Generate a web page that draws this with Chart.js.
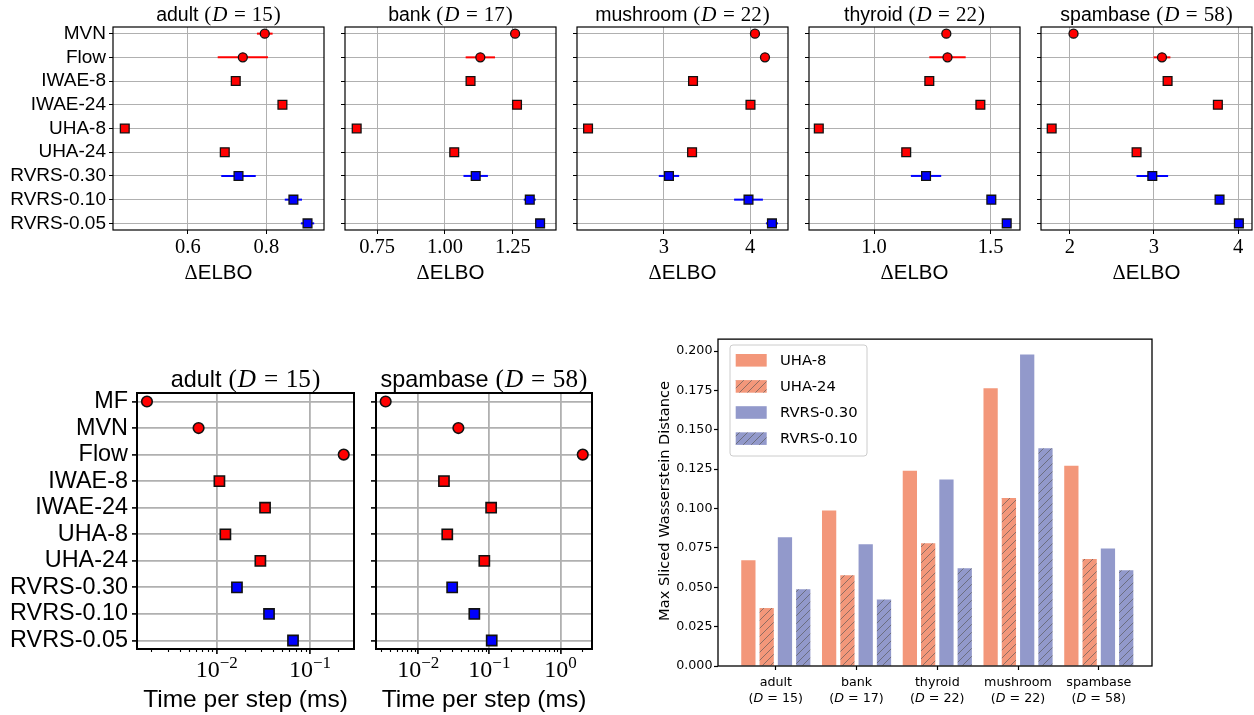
<!DOCTYPE html>
<html><head><meta charset="utf-8">
<script src="https://cdn.jsdelivr.net/npm/chart.js@4.4.1/dist/chart.umd.min.js"></script>
<style>
html,body{margin:0;padding:0;background:#fff}
#wrap{position:relative;width:1254px;height:715px;overflow:hidden;background:#fff}
#wrap canvas{position:absolute}
</style></head><body><div id="wrap"></div>
<script>
// ---------------- data ----------------
const topMethods = ['MVN','Flow','IWAE-8','IWAE-24','UHA-8','UHA-24','RVRS-0.30','RVRS-0.10','RVRS-0.05'];
const topNames = ['adult','bank','mushroom','thyroid','spambase'];
const topDims = [15,17,22,22,58];
const elboAdult    = [0.796,0.740,0.722,0.841,0.439,0.694,0.729,0.869,0.905];
const errAdult     = [0.020,0.064,0,0,0,0,0.044,0.022,0.017];
const elboBank     = [1.258,1.130,1.094,1.265,0.675,1.034,1.113,1.312,1.350];
const errBank      = [0,0.054,0,0,0,0,0.045,0.022,0];
const elboMushroom = [4.055,4.171,3.337,4.003,2.120,3.326,3.058,3.980,4.252];
const errMushroom  = [0,0,0,0,0,0,0.118,0.167,0.070];
const elboThyroid  = [1.310,1.315,1.237,1.456,0.763,1.138,1.223,1.503,1.569];
const errThyroid   = [0,0.078,0,0,0,0,0.065,0,0];
const elboSpambase = [2.043,3.095,3.162,3.760,1.783,2.793,2.980,3.780,4.010];
const errSpambase  = [0,0.100,0,0,0,0,0.188,0,0];
const ticksAdult = [0.6,0.8],        tickLabelsAdult = ['0.6','0.8'];
const ticksBank = [0.75,1.0,1.25],   tickLabelsBank = ['0.75','1.00','1.25'];
const ticksMushroom = [3,4],         tickLabelsMushroom = ['3','4'];
const ticksThyroid = [1.0,1.5],      tickLabelsThyroid = ['1.0','1.5'];
const ticksSpambase = [2,3,4],       tickLabelsSpambase = ['2','3','4'];

const timeMethods = ['MF','MVN','Flow','IWAE-8','IWAE-24','UHA-8','UHA-24','RVRS-0.30','RVRS-0.10','RVRS-0.05'];
const timeNames = ['adult','spambase'];
const timeDims = [15,58];
const timeAdult    = [0.00179,0.0064,0.23,0.0107,0.033,0.0124,0.0294,0.0165,0.0364,0.0658];
const timeSpambase = [0.00348,0.0367,2.06,0.023,0.106,0.0256,0.085,0.030,0.0615,0.108];
const logTicksAdult = [0.01,0.1],       logExpAdult = ['−2','−1'];
const logTicksSpambase = [0.01,0.1,1],  logExpSpambase = ['−2','−1','0'];

const barCategories = ['adult','bank','thyroid','mushroom','spambase'];
const barDims = [15,17,22,22,58];
const barSeriesNames = ['UHA-8','UHA-24','RVRS-0.30','RVRS-0.10'];
const mswUHA8    = [0.0672,0.0987,0.1240,0.1764,0.1272];
const mswUHA24   = [0.0368,0.0577,0.0779,0.1067,0.0680];
const mswRVRS030 = [0.0817,0.0773,0.1185,0.1979,0.0747];
const mswRVRS010 = [0.0488,0.0423,0.0621,0.1383,0.0608];
const barYTicks = [0,0.025,0.05,0.075,0.1,0.125,0.15,0.175,0.2];

// ---------------- helpers ----------------
const wrap = document.getElementById('wrap');
function addCanvas(x,y,w,h){
  const c=document.createElement('canvas');
  c.width=w;c.height=h;c.style.left=x+'px';c.style.top=y+'px';
  c.style.width=w+'px';c.style.height=h+'px';
  wrap.appendChild(c);return c;
}
function drawSegs(ctx, segs, cx, y){
  let total=0;
  segs.forEach(s=>{ctx.font=s.f;s.w=(s.l||0)+ctx.measureText(s.t).width+(s.r||0);total+=s.w;});
  let x=cx-total/2;
  ctx.textAlign='left';ctx.textBaseline='alphabetic';ctx.fillStyle='#000';
  segs.forEach(s=>{ctx.font=s.f;ctx.fillText(s.t,x+(s.l||0),y+(s.dy||0));x+=s.w;});
}
function titleSegs(name,D,sans,serif,gap){
  const sf=serif+'px "Liberation Serif"', it='italic '+serif+'px "Liberation Serif"';
  return [{t:name,f:sans+'px "Liberation Sans"',r:sans*0.3},{t:'(',f:sf,r:1},{t:'D',f:it,r:0.5},
          {t:'=',f:sf,l:gap,r:gap},{t:String(D),f:sf},{t:')',f:sf,l:1}];
}
const kindOf = m => (m==='MF'||m==='MVN'||m==='Flow') ? 'c' : (m.indexOf('RVRS')===0 ? 'bs' : 'rs');
function markerDatasets(methods, values, errs, s){
  const groups=[{key:'c',style:'circle',color:'#ff0000',r:s.cr},
                {key:'rs',style:'rect',color:'#ff0000',r:s.sr},
                {key:'bs',style:'rect',color:'#0000ff',r:s.sr}];
  const ds=groups.map(g=>({
    data:methods.map((m,i)=>kindOf(m)===g.key?{x:values[i],y:i}:null).filter(Boolean),
    pointStyle:g.style,pointRadius:g.r,pointHoverRadius:g.r,
    pointBackgroundColor:g.color,pointBorderColor:'#111',pointBorderWidth:s.bw,pointHoverBorderWidth:s.bw,
    showLine:false,order:0}));
  if(errs) methods.forEach((m,i)=>{ if(errs[i]>0) ds.push({
    data:[{x:values[i]-errs[i],y:i},{x:values[i]+errs[i],y:i}],showLine:true,
    borderColor:kindOf(m)==='bs'?'#0000ff':'#ff0000',borderWidth:s.ew,pointRadius:0,pointHoverRadius:0,order:1}); });
  return ds;
}
function framePlugin(lw){
  return {id:'frame',afterDatasetsDraw(chart){
    const {ctx,chartArea:a}=chart;ctx.save();ctx.strokeStyle='#000';ctx.lineWidth=lw;
    ctx.strokeRect(a.left,a.top,a.right-a.left,a.bottom-a.top);ctx.restore();}};
}

function rowChart(c){
  const cw=c.R-c.cx+c.padR, ch=c.ch;
  const canvas=addCanvas(c.cx,c.cy,cw,ch);
  const yW=c.L-c.cx, padTop=c.T-c.cy, xH=c.cy+ch-c.B;
  const n=c.methods.length;
  const textPlugin={id:'rowText',afterDraw(chart){
    const ctx=chart.ctx,a=chart.chartArea,mx=(a.left+a.right)/2;
    ctx.save();
    drawSegs(ctx,c.title,mx,c.titleY-c.cy);
    drawSegs(ctx,c.xlabel,mx,c.xlabelY-c.cy);
    if(c.log){
      const xs=chart.scales.x;
      c.xTicks.forEach((v,i)=>drawSegs(ctx,[{t:'10',f:c.logF+'px "Liberation Serif"'},{t:c.logExp[i],f:c.expF+'px "Liberation Serif"',dy:-c.expDy}],xs.getPixelForValue(v),c.logLabelY-c.cy));
      ctx.strokeStyle='#000';ctx.lineWidth=1.1;
      for(let k=-4;k<=1;k++) for(let m=2;m<=9;m++){
        const v=m*Math.pow(10,k);
        if(v<=c.xMin||v>=c.xMax) continue;
        const px=Math.round(xs.getPixelForValue(v))+0.5;
        ctx.beginPath();ctx.moveTo(px,a.bottom);ctx.lineTo(px,a.bottom+3);ctx.stroke();
      }
    }
    ctx.restore();
  }};
  new Chart(canvas.getContext('2d'),{
    type:'scatter',
    data:{datasets:markerDatasets(c.methods,c.values,c.errs,c.mk)},
    options:{
      responsive:false,animation:false,devicePixelRatio:1,events:[],
      layout:{autoPadding:false,padding:{left:0,top:padTop,right:c.padR,bottom:0}},
      plugins:{legend:{display:false},tooltip:{enabled:false}},
      scales:{
        x:{type:c.log?'logarithmic':'linear',position:'bottom',min:c.xMin,max:c.xMax,
          afterBuildTicks:s=>{s.ticks=c.xTicks.map(v=>({value:v}));},
          afterFit:s=>{s.height=xH;},
          border:{display:false},
          grid:{color:'#b0b0b0',lineWidth:c.gw,drawTicks:true,tickLength:c.tl,tickColor:'#000',tickWidth:c.tw},
          ticks:{display:!c.log,font:{family:'Liberation Serif',size:c.tickF},color:'#000',padding:1.5,
                 maxRotation:0,autoSkip:false,callback:(v,i)=>c.xTickLabels?c.xTickLabels[i]:''}},
        y:{type:'linear',reverse:true,min:-c.ym,max:n-1+c.ym,
          afterBuildTicks:s=>{s.ticks=c.methods.map((m,i)=>({value:i}));},
          afterFit:s=>{s.width=yW;},
          border:{display:false},
          grid:{color:'#b0b0b0',lineWidth:c.gw,drawTicks:true,tickLength:c.tl,tickColor:'#000',tickWidth:c.tw},
          ticks:{display:c.showY,font:{family:'Liberation Sans',size:c.labF},color:'#000',padding:c.lp,
                 autoSkip:false,callback:v=>c.methods[Math.round(v)]}}
      }
    },
    plugins:[framePlugin(c.fw),textPlugin]
  });
}

// ---------------- top row: ΔELBO ----------------
const topVals=[elboAdult,elboBank,elboMushroom,elboThyroid,elboSpambase];
const topErrs=[errAdult,errBank,errMushroom,errThyroid,errSpambase];
const topTicks=[ticksAdult,ticksBank,ticksMushroom,ticksThyroid,ticksSpambase];
const topTickLabels=[tickLabelsAdult,tickLabelsBank,tickLabelsMushroom,tickLabelsThyroid,tickLabelsSpambase];
const topLayout={L:[113,345,577,809,1041],W:211,T:27,B:230,
  range:[[0.409,0.947],[0.632,1.4085],[1.992,4.438],[0.721,1.626],[1.656,4.166]]};
topNames.forEach((name,i)=>{
  const L=topLayout.L[i];
  rowChart({cx:i===0?0:L-6,cy:0,ch:292,L:L,R:L+topLayout.W,T:topLayout.T,B:topLayout.B,padR:3,
    methods:topMethods,values:topVals[i],errs:topErrs[i],
    xMin:topLayout.range[i][0],xMax:topLayout.range[i][1],xTicks:topTicks[i],xTickLabels:topTickLabels[i],
    ym:0.28,showY:i===0,labF:19,lp:3,tickF:20.5,gw:1,tl:4,tw:1,fw:1.2,
    mk:{cr:4.5,sr:6.2,bw:1.3,ew:2},
    title:titleSegs(name,topDims[i],19.5,21,6),titleY:21,
    xlabel:[{t:'Δ',f:'20.5px "Liberation Serif"'},{t:'ELBO',f:'20.5px "Liberation Sans"'}],xlabelY:278.5});
});

// ---------------- bottom-left: time per step ----------------
const timeVals=[timeAdult,timeSpambase];
const timeLayout=[{L:137,R:354,cx:0,min:0.00140,max:0.2964,ticks:logTicksAdult,exp:logExpAdult},
                  {L:376,R:592,cx:366,min:0.002546,max:2.78,ticks:logTicksSpambase,exp:logExpSpambase}];
timeNames.forEach((name,i)=>{
  const t=timeLayout[i];
  rowChart({cx:t.cx,cy:350,ch:365,L:t.L,R:t.R,T:393,B:649,padR:4,
    methods:timeMethods,values:timeVals[i],errs:null,log:true,
    xMin:t.min,xMax:t.max,xTicks:t.ticks,logExp:t.exp,logF:24,expF:17,expDy:9.5,logLabelY:677,
    ym:0.32,showY:i===0,labF:23.4,lp:4,tickF:24,gw:1.8,tl:5,tw:1.6,fw:2,
    mk:{cr:5.3,sr:7.2,bw:1.6,ew:2},
    title:titleSegs(name,timeDims[i],23.4,25.2,7.5),titleY:386.5,
    xlabel:[{t:'Time per step (ms)',f:'24.5px "Liberation Sans"'}],xlabelY:706.5});
});

// ---------------- bottom-right: bar chart ----------------
const UHA_COLOR='#f3977a', RVRS_COLOR='#9299cb';
function hatch(color){
  const c=document.createElement('canvas');c.width=8;c.height=8;
  const g=c.getContext('2d');g.fillStyle=color;g.fillRect(0,0,8,8);
  g.strokeStyle='rgba(85,85,85,0.8)';g.lineWidth=0.8;g.beginPath();
  g.moveTo(-1,9);g.lineTo(9,-1);g.moveTo(-1,1);g.lineTo(1,-1);g.moveTo(7,9);g.lineTo(9,7);g.stroke();
  return g.createPattern(c,'repeat');
}
const barFills=[UHA_COLOR,hatch(UHA_COLOR),RVRS_COLOR,hatch(RVRS_COLOR)];
const barSeries=[mswUHA8,mswUHA24,mswRVRS030,mswRVRS010];
(function(){
  const cx=650,cy=330,cw=604,ch=385,L=718,T=337,R=1152,B=666;
  const canvas=addCanvas(cx,cy,cw,ch);
  const textPlugin={id:'barText',afterDraw(chart){
    const ctx=chart.ctx,xs=chart.scales.x;
    ctx.save();ctx.fillStyle='#000';
    barCategories.forEach((name,i)=>{
      const x=xs.getPixelForValue(i);
      ctx.font='12.7px "DejaVu Sans"';ctx.textAlign='center';ctx.textBaseline='middle';
      ctx.fillText(name,x,682.5-cy);
      const segs=[{t:'(',f:'12.7px "DejaVu Sans"'},{t:'D',f:'oblique 12.7px "DejaVu Sans"'},{t:' = '+barDims[i]+')',f:'12.7px "DejaVu Sans"'}];
      let tot=0;segs.forEach(s=>{ctx.font=s.f;s.w=ctx.measureText(s.t).width;tot+=s.w;});
      let xx=x-tot/2;ctx.textAlign='left';
      segs.forEach(s=>{ctx.font=s.f;ctx.fillText(s.t,xx,698.5-cy);xx+=s.w;});
    });
    ctx.save();ctx.translate(665-cx,501-cy);ctx.rotate(-Math.PI/2);
    ctx.font='14.6px "DejaVu Sans"';ctx.textAlign='center';ctx.textBaseline='middle';
    ctx.fillText('Max Sliced Wasserstein Distance',0,0);ctx.restore();
    const bx=730-cx,by=345-cy,bw=137,bh=111,r=3;
    ctx.beginPath();ctx.moveTo(bx+r,by);ctx.arcTo(bx+bw,by,bx+bw,by+bh,r);ctx.arcTo(bx+bw,by+bh,bx,by+bh,r);
    ctx.arcTo(bx,by+bh,bx,by,r);ctx.arcTo(bx,by,bx+bw,by,r);ctx.closePath();
    ctx.fillStyle='rgba(255,255,255,0.8)';ctx.fill();ctx.strokeStyle='#cccccc';ctx.lineWidth=1;ctx.stroke();
    barSeriesNames.forEach((n,k)=>{
      const yc=360.3-cy+26.1*k;
      ctx.fillStyle=barFills[k];ctx.fillRect(735.7-cx,yc-6.3,31,12.6);
      ctx.fillStyle='#000';ctx.font='14.8px "DejaVu Sans"';ctx.textAlign='left';ctx.textBaseline='middle';
      ctx.fillText(n,780-cx,yc+0.5);
    });
    ctx.restore();
  }};
  new Chart(canvas.getContext('2d'),{
    type:'bar',
    data:{datasets:barSeriesNames.map((n,k)=>({label:n,
      data:barCategories.map((c,i)=>({x:i,y:barSeries[k][i]})),
      backgroundColor:barFills[k],borderWidth:0,categoryPercentage:0.906,barPercentage:0.78}))},
    options:{
      responsive:false,animation:false,devicePixelRatio:1,events:[],
      layout:{autoPadding:false,padding:{left:0,top:T-cy,right:cw-(R-cx),bottom:0}},
      plugins:{legend:{display:false},tooltip:{enabled:false}},
      scales:{
        x:{type:'linear',offset:false,min:-0.716,max:4.659,
          afterBuildTicks:s=>{s.ticks=barCategories.map((c,i)=>({value:i}));},
          afterFit:s=>{s.height=cy+ch-B;},
          border:{display:false},
          grid:{offset:false,drawOnChartArea:false,drawTicks:true,tickLength:4,tickColor:'#000',tickWidth:1.2},
          ticks:{display:false}},
        y:{type:'linear',min:0,max:0.2076,
          afterBuildTicks:s=>{s.ticks=barYTicks.map(v=>({value:v}));},
          afterFit:s=>{s.width=L-cx;},
          border:{display:false},
          grid:{drawOnChartArea:false,drawTicks:true,tickLength:4,tickColor:'#000',tickWidth:1.2},
          ticks:{font:{family:'DejaVu Sans',size:12.7},color:'#000',padding:1.5,autoSkip:false,
                 callback:v=>v.toFixed(3)}}
      }
    },
    plugins:[framePlugin(1.3),textPlugin]
  });
})();
</script></body></html>
